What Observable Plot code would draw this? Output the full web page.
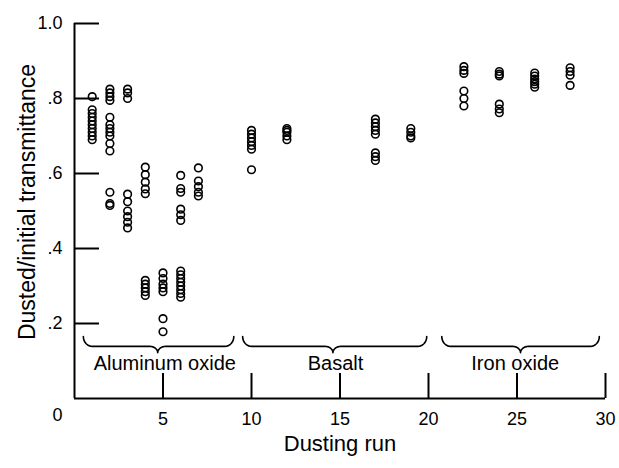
<!DOCTYPE html>
<html>
<head>
<meta charset="utf-8">
<script src="https://cdn.jsdelivr.net/npm/d3@7"></script>
<script src="https://cdn.jsdelivr.net/npm/@observablehq/plot@0.6"></script>
<style>
  html, body { margin: 0; padding: 0; background: white; }
</style>
</head>
<body>
<div id="chart"></div>
<script>
// Dusting runs and the dusted/initial transmittance readings for each run
const runNumbers = [1, 2, 3, 4, 5, 6, 7, 10, 12, 17, 19, 22, 24, 26, 28];
const transmittance = [
  [0.805, 0.77, 0.76, 0.75, 0.74, 0.73, 0.72, 0.71, 0.70, 0.69],
  [0.825, 0.815, 0.805, 0.795, 0.75, 0.73, 0.72, 0.71, 0.70, 0.68, 0.66, 0.55, 0.52, 0.515],
  [0.825, 0.815, 0.80, 0.545, 0.525, 0.50, 0.485, 0.47, 0.455],
  [0.617, 0.597, 0.577, 0.559, 0.546, 0.315, 0.305, 0.295, 0.285, 0.275],
  [0.335, 0.32, 0.305, 0.295, 0.285, 0.213, 0.178],
  [0.595, 0.56, 0.55, 0.505, 0.49, 0.475, 0.34, 0.33, 0.32, 0.31, 0.30, 0.29, 0.28, 0.27],
  [0.615, 0.58, 0.565, 0.55, 0.54],
  [0.715, 0.705, 0.695, 0.685, 0.675, 0.665, 0.61],
  [0.72, 0.715, 0.71, 0.70, 0.69],
  [0.745, 0.735, 0.725, 0.715, 0.705, 0.655, 0.645, 0.635],
  [0.72, 0.71, 0.70, 0.695],
  [0.885, 0.875, 0.867, 0.82, 0.80, 0.78],
  [0.872, 0.865, 0.86, 0.785, 0.772, 0.762],
  [0.868, 0.86, 0.852, 0.845, 0.838, 0.83],
  [0.882, 0.872, 0.862, 0.835]
];

// Material groups (brace extents in run units)
const materials = ["Aluminum oxide", "Basalt", "Iron oxide"];
const braceStart = [0.5, 9.5, 20.75];
const braceTip = [4.7, 14.6, 25.2];
const braceEnd = [9.0, 19.9, 29.65];
const labelCenter = [5.1, 14.75, 24.9];

// Axis ticks
const xTicks = [5, 10, 15, 20, 25, 30];
const yTicks = [0.2, 0.4, 0.6, 0.8, 1.0];
const yTickLabels = [".2", ".4", ".6", ".8", "1.0"];

const points = runNumbers.flatMap((run, i) => transmittance[i].map(v => ({run, v})));

function bracePoints(name, x0, xm, x1) {
  const top = 0.165, base = 0.139, tip = 0.122, r = 0.5, r2 = 0.45, n = 8, pts = [];
  for (let i = 0; i <= n; i++) { const t = i / n * Math.PI / 2; pts.push({name, x: x0 + r - r * Math.cos(t), y: top - (top - base) * Math.sin(t)}); }
  for (let i = 0; i <= n; i++) { const t = i / n * Math.PI / 2; pts.push({name, x: xm - r2 + r2 * Math.sin(t), y: base - (base - tip) * (1 - Math.cos(t))}); }
  for (let i = n; i >= 0; i--) { const t = i / n * Math.PI / 2; pts.push({name, x: xm + r2 - r2 * Math.sin(t), y: base - (base - tip) * (1 - Math.cos(t))}); }
  for (let i = n; i >= 0; i--) { const t = i / n * Math.PI / 2; pts.push({name, x: x1 - r + r * Math.cos(t), y: top - (top - base) * Math.sin(t)}); }
  return pts;
}
const braces = materials.flatMap((m, i) => bracePoints(m, braceStart[i], braceTip[i], braceEnd[i]));

const W = 619, H = 468, ML = 74, MR = 14, MT = 23, MB = 70;
const frameW = W - ML - MR, frameH = H - MT - MB;
const tickLen = 25;

const chart = Plot.plot({
  width: W,
  height: H,
  marginLeft: ML,
  marginRight: MR,
  marginTop: MT,
  marginBottom: MB,
  x: {domain: [0, 30]},
  y: {domain: [0, 1]},
  style: {fontFamily: "'Liberation Sans', Arial, sans-serif", fontSize: "18px", color: "black", background: "white", overflow: "visible"},
  marks: [
    // axis lines
    Plot.ruleY([0], {x1: 0, x2: 30, stroke: "black", strokeWidth: 2}),
    Plot.ruleX([0], {y1: 0, y2: 1, stroke: "black", strokeWidth: 2}),
    // inward ticks
    Plot.tickX(xTicks, {x: d => d, insetTop: frameH - tickLen, stroke: "black", strokeWidth: 2}),
    Plot.tickY(yTicks, {y: d => d, insetRight: frameW - tickLen, stroke: "black", strokeWidth: 2}),
    // tick labels
    Plot.axisX(xTicks, {tickSize: 0, tickPadding: 14, label: null, fontSize: 18, tickFormat: d => String(d)}),
    Plot.text([0], {x: d => d, frameAnchor: "bottom", dx: -17, dy: 22, text: d => String(d), fontSize: 18}),
    Plot.axisY(yTicks, {tickSize: 0, tickPadding: 12, label: null, fontSize: 18, tickFormat: d => yTickLabels[yTicks.indexOf(d)]}),
    // axis titles
    Plot.text(["Dusting run"], {frameAnchor: "bottom", dy: 52, text: d => d, fontSize: 22}),
    Plot.text(["Dusted/initial transmittance"], {frameAnchor: "left", textAnchor: "middle", dx: -47, dy: -9, rotate: -90, text: d => d, fontSize: 23}),
    // material braces and names
    Plot.line(braces, {x: "x", y: "y", z: "name", stroke: "black", strokeWidth: 1.6}),
    Plot.text(materials, {x: (d, i) => labelCenter[i], y: () => 0.093, text: d => d, fontSize: 20}),
    // data
    Plot.dot(points, {x: "run", y: "v", r: 3.8, stroke: "black", strokeWidth: 1.6, fill: "none"})
  ]
});
document.getElementById("chart").appendChild(chart);
</script>
</body>
</html>
